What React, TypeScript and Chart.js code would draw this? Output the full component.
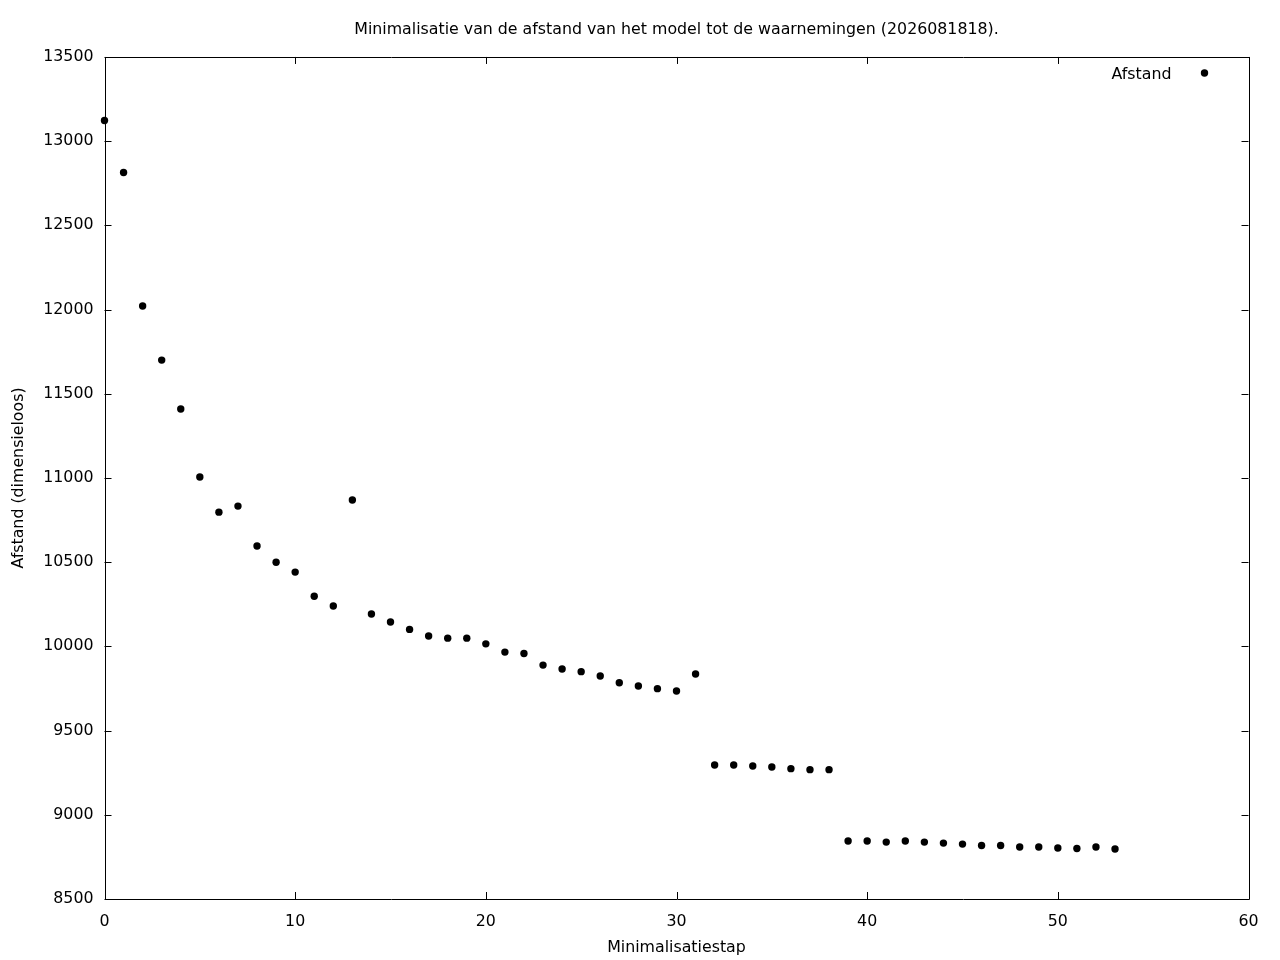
import React, { useEffect, useRef } from "react";
import { Chart, registerables } from "chart.js";

Chart.register(...registerables);

const TITLE = "Minimalisatie van de afstand van het model tot de waarnemingen (2026081818).";
const X_LABEL = "Minimalisatiestap";
const Y_LABEL = "Afstand (dimensieloos)";
const SERIES_LABEL = "Afstand";

const steps = [
  0, 1, 2, 3, 4, 5, 6, 7, 8, 9, 10, 11, 12, 13, 14, 15, 16, 17, 18, 19, 20, 21, 22, 23, 24, 25, 26,
  27, 28, 29, 30, 31, 32, 33, 34, 35, 36, 37, 38, 39, 40, 41, 42, 43, 44, 45, 46, 47, 48, 49, 50,
  51, 52, 53,
];
const afstand = [
  13123, 12814, 12021, 11700, 11410, 11006, 10797, 10833, 10596, 10500, 10441, 10298, 10240, 10869,
  10192, 10145, 10101, 10062, 10049, 10049, 10015, 9966, 9958, 9889, 9866, 9850, 9824, 9784, 9765,
  9749, 9735, 9836, 9296, 9296, 9290, 9284, 9274, 9268, 9268, 8844, 8844, 8838, 8844, 8838, 8832,
  8826, 8818, 8818, 8809, 8809, 8803, 8800, 8809, 8797,
];

const FONT = "'DejaVu Sans', sans-serif";
const FS = 15.8;
const TEXT = "#000";

const frameAndTicks = {
  id: "frameAndTicks",
  afterDatasetsDraw(chart: any) {
    const { ctx, chartArea, scales } = chart;
    const { left, right, top, bottom } = chartArea;
    const len = 7;
    ctx.save();
    ctx.strokeStyle = "#000";
    ctx.lineWidth = 1;
    ctx.beginPath();
    ctx.rect(Math.round(left) + 0.5, Math.round(top) + 0.5, Math.round(right - left), Math.round(bottom - top));
    ctx.stroke();
    ctx.beginPath();
    scales.x.ticks.forEach((t: any) => {
      const px = Math.round(scales.x.getPixelForValue(t.value)) + 0.5;
      ctx.moveTo(px, bottom);
      ctx.lineTo(px, bottom - len);
      ctx.moveTo(px, top);
      ctx.lineTo(px, top + len);
    });
    scales.y.ticks.forEach((t: any) => {
      const py = Math.round(scales.y.getPixelForValue(t.value)) + 0.5;
      ctx.moveTo(left, py);
      ctx.lineTo(left + len, py);
      ctx.moveTo(right, py);
      ctx.lineTo(right - len, py);
    });
    ctx.stroke();

    // gnuplot-style key: label then sample symbol
    const ds = chart.data.datasets[0];
    const ky = top + 16;
    ctx.fillStyle = TEXT;
    ctx.font = `${FS}px ${FONT}`;
    ctx.textAlign = "right";
    ctx.textBaseline = "middle";
    ctx.fillText(ds.label, right - 77, ky + 1.5);
    ctx.beginPath();
    ctx.fillStyle = ds.backgroundColor;
    ctx.arc(right - 44, ky, ds.pointRadius, 0, Math.PI * 2);
    ctx.fill();
    ctx.restore();
  },
};

export default function App() {
  const ref = useRef<HTMLCanvasElement>(null);
  useEffect(() => {
    document.body.style.margin = "0";
    const chart = new Chart(ref.current!, {
      type: "scatter",
      data: {
        datasets: [
          {
            label: SERIES_LABEL,
            data: steps.map((s, i) => ({ x: s, y: afstand[i] })),
            backgroundColor: "#000",
            borderColor: "#000",
            borderWidth: 0,
            pointRadius: 3.7,
            pointHoverRadius: 3.7,
            clip: false as any,
          },
        ],
      },
      options: {
        responsive: false,
        animation: false,
        devicePixelRatio: 1,
        layout: { padding: { left: 0, right: 31.5, top: 0, bottom: 0 } },
        plugins: {
          legend: { display: false },
          tooltip: { enabled: false },
          title: {
            display: true,
            text: TITLE,
            fullSize: false,
            color: TEXT,
            font: { family: FONT, size: FS, weight: "normal" as any },
            padding: { top: 20, bottom: 18 },
          },
        },
        scales: {
          x: {
            type: "linear",
            min: 0,
            max: 60,
            ticks: {
              stepSize: 10,
              color: TEXT,
              font: { family: FONT, size: FS },
              padding: 13,
              maxRotation: 0,
              callback: (v: any) => String(v),
            },
            grid: { display: false, drawTicks: false },
            border: { display: false },
            title: {
              display: true,
              text: X_LABEL,
              color: TEXT,
              font: { family: FONT, size: FS },
              padding: { top: 0, bottom: 3 },
            },
            afterFit(scale: any) {
              scale.height = 61;
            },
          },
          y: {
            min: 8500,
            max: 13500,
            ticks: {
              stepSize: 500,
              color: TEXT,
              font: { family: FONT, size: FS },
              padding: 11,
              callback: (v: any) => String(v),
            },
            grid: { display: false, drawTicks: false },
            border: { display: false },
            title: {
              display: true,
              text: Y_LABEL,
              color: TEXT,
              font: { family: FONT, size: FS },
              padding: { top: 9, bottom: 0 },
            },
            afterFit(scale: any) {
              scale.width = 104.5;
            },
          },
        },
      },
      plugins: [frameAndTicks],
    });
    return () => chart.destroy();
  }, []);
  return (
    <div style={{ position: "absolute", left: 0, top: 0, width: 1280, height: 960, background: "#fff" }}>
      <canvas ref={ref} width={1280} height={960} />
    </div>
  );
}
